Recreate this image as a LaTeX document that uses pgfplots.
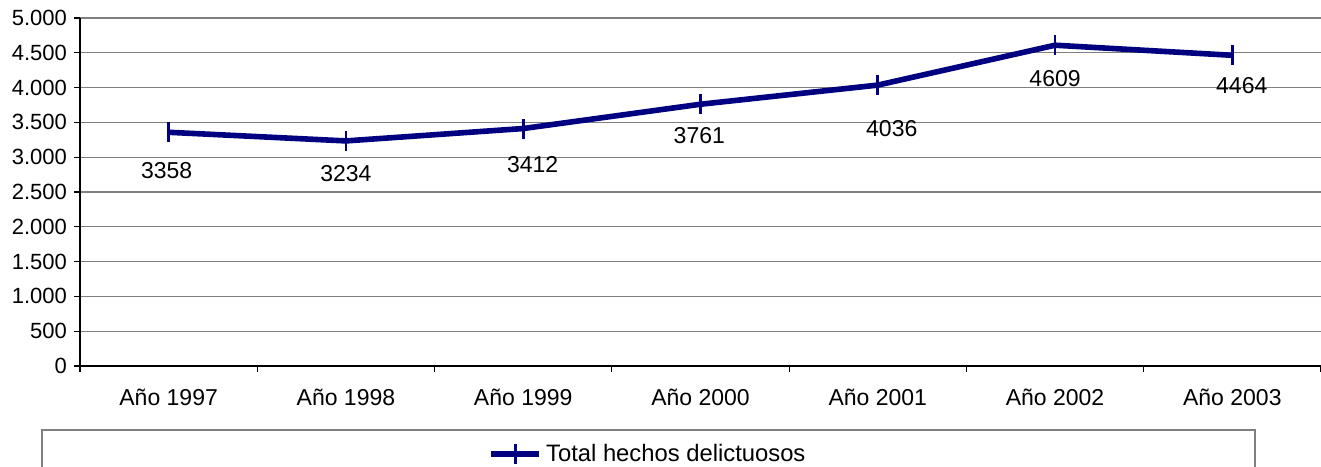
\documentclass[border=0pt]{standalone}
\usepackage{pgfplots}
\usepackage{pgfplotstable}
\pgfplotsset{compat=1.18}
\usepackage{fontspec}
\setmainfont{Liberation Sans}
\definecolor{navy}{RGB}{0,0,128}
\definecolor{gridgray}{RGB}{128,128,128}
% x, total, label shift (pt)
\pgfplotstableread{
x total dx dy
0 3358 -1.0 -19.2
1 3234 0.0 -16.4
2 3412 4.7 -17.9
3 3761 -0.6 -15.9
4 4036 7.0 -21.6
5 4609 0.0 -16.6
6 4464 4.7 -14.9
}\hechos
\begin{document}
\begin{tikzpicture}[x=1pt,y=1pt]
\begin{axis}[
  at={(40pt,50pt)}, anchor=south west,
  width=620.5pt, height=174pt, scale only axis,
  xmin=-0.5, xmax=6.5, ymin=0, ymax=5000,
  axis x line*=bottom, axis y line*=left,
  axis line style={-, black, line width=0.6pt},
  xtick={-0.5,0.5,...,6.5}, xticklabels={},
  extra x ticks={0,1,2,3,4,5,6},
  extra x tick labels={Año 1997,Año 1998,Año 1999,Año 2000,Año 2001,Año 2002,Año 2003},
  extra x tick style={major tick length=0pt, xticklabel style={yshift=-8pt}},
  ytick={0,500,...,5000},
  tick align=outside, major tick length=3pt,
  tick style={black, line width=0.6pt},
  ymajorgrids, grid style={gridgray, line width=0.6pt},
  scaled y ticks=false,
  yticklabel style={/pgf/number format/.cd, fixed, 1000 sep={.}, assume math mode=true},
  ticklabel style={font=\fontsize{11}{13}\selectfont},
  xticklabel style={font=\fontsize{11.5}{13}\selectfont},
  legend entries={Total hechos delictuosos},
  legend style={draw=none, fill=none, at={(rel axis cs:0.4585,-0.2529)}, anchor=center,
    font=\fontsize{11.9}{13}\selectfont, inner sep=0pt},
  legend image code/.code={\draw[mark repeat=2,mark phase=2,#1] plot coordinates {(0pt,0pt) (12pt,0pt) (24pt,0pt)};},
]
\addplot[navy, line width=2.8pt, line join=round, mark=|, mark size=5pt,
  mark options={solid, line width=1.3pt},
  visualization depends on={\thisrow{dx} \as \dx},
  visualization depends on={\thisrow{dy} \as \dy},
  nodes near coords={\pgfmathprintnumber[fixed, 1000 sep={}, assume math mode=true]{\pgfplotspointmeta}},
  every node near coord/.append style={black, anchor=center, xshift=\dx pt, yshift=\dy pt,
    font=\fontsize{11.5}{13}\selectfont}]
  table[x=x, y=total] {\hechos};
\end{axis}
\draw[gray, line width=0.6pt] (21pt,18pt) rectangle (627.5pt,-10pt);
\pgfresetboundingbox
\useasboundingbox (0,0) rectangle (660.5pt,233pt);
\end{tikzpicture}
\end{document}
